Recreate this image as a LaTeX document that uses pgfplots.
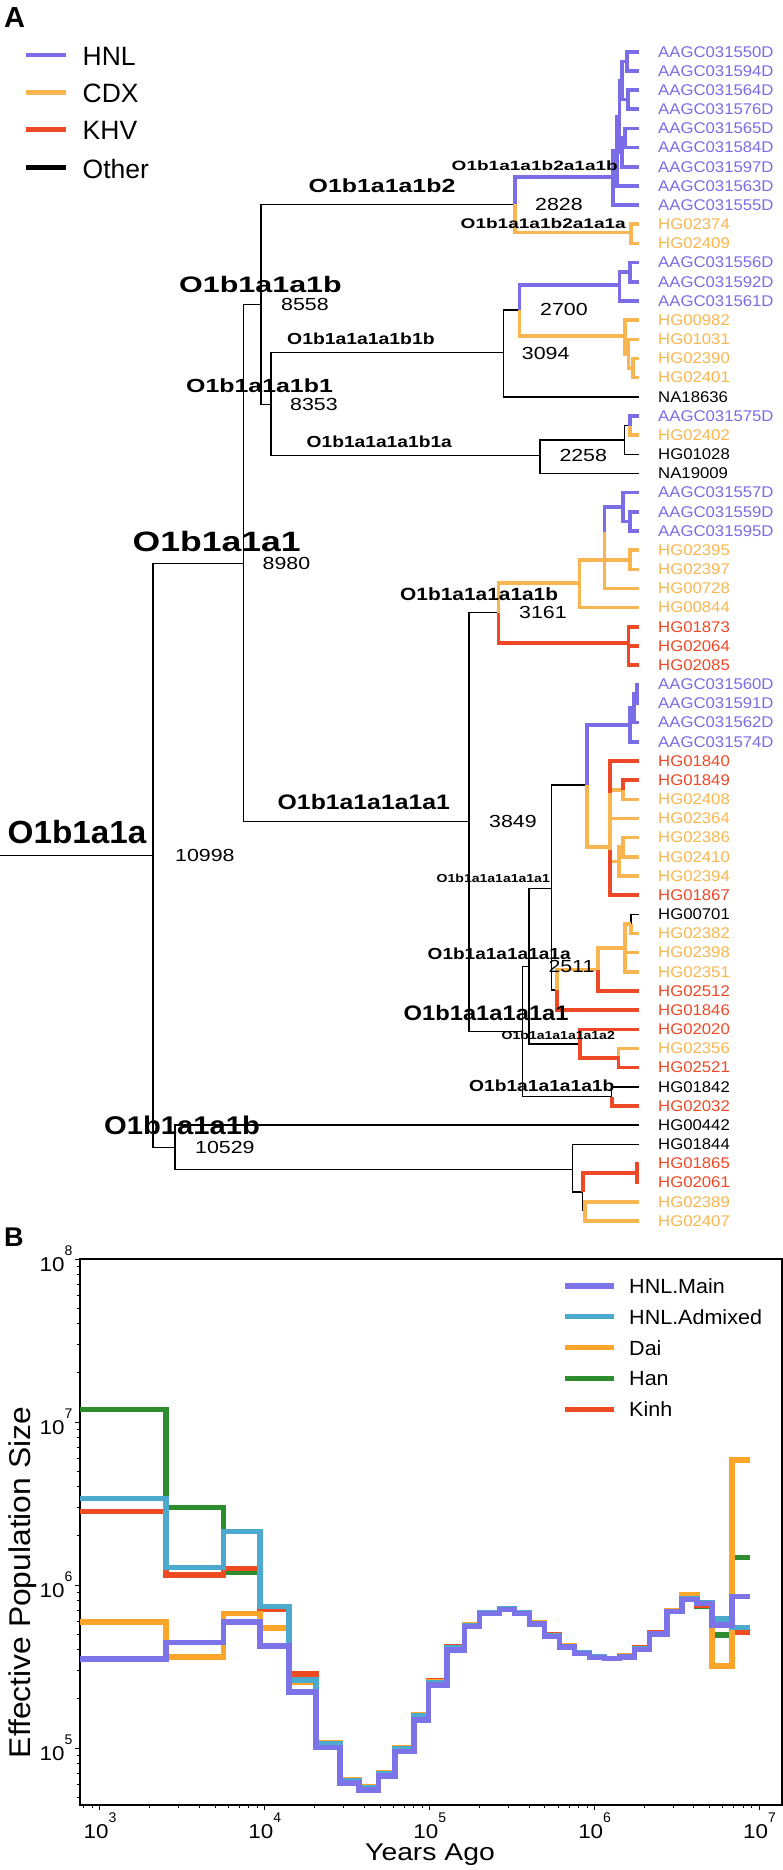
\documentclass[border=0pt]{standalone}
\usepackage{pgfplots}
\pgfplotsset{compat=1.18}
\usepackage{fontspec}
\setmainfont{Liberation Sans}
\newfontfamily\lsb{Liberation Sans Bold}
\definecolor{hnl}{RGB}{123,108,232}
\definecolor{cdx}{RGB}{249,182,80}
\definecolor{khv}{RGB}{238,72,38}
\definecolor{cMain}{RGB}{125,115,232}
\definecolor{cAdm}{RGB}{75,170,205}
\definecolor{cDai}{RGB}{252,165,40}
\definecolor{cHan}{RGB}{45,140,45}
\definecolor{cKinh}{RGB}{238,75,35}
\newcommand{\RL}[3]{\scalebox{#1}[1]{\fontsize{#2pt}{#2pt}\selectfont #3}}
\newcommand{\BL}[3]{\scalebox{#1}[1]{\lsb\fontsize{#2pt}{#2pt}\selectfont #3}}
\newcommand{\tip}[3]{\node[anchor=west,inner sep=0pt,text=#1] at (axis cs:658,#2) {\RL{1.08}{15.5}{#3}};}
\newcommand{\lab}[4]{\node[anchor=west,inner sep=0pt] at (axis cs:#1,#2) {#3{#4}};}
\newcommand{\tl}[1]{\scalebox{1.12}[1]{\fontsize{20pt}{20pt}\selectfont 10}\raisebox{16pt}{\fontsize{14pt}{14pt}\selectfont #1}}
\pgfplotsset{
 blk/.style={black, line width=1.5pt, forget plot},
 phn/.style={hnl, line width=3.6pt, forget plot},
 pcd/.style={cdx, line width=3.6pt, forget plot},
 pkh/.style={khv, line width=3.6pt, forget plot},
 bser/.style={line width=5.5pt, const plot, forget plot},
}
\begin{document}
\begin{tikzpicture}
\useasboundingbox (0pt,0pt) rectangle (782pt,-1870pt);
% ---------------- overlay (panel A and texts) ----------------
\begin{axis}[at={(0pt,0pt)}, anchor=north west, width=782pt, height=1870pt, scale only axis,
  xmin=0, xmax=782, ymin=0, ymax=1870, y dir=reverse, hide axis, clip=false, unbounded coords=jump]
% black branches
\addplot[blk] coordinates {
(0,855.7)(153,855.7) (0,inf)
(243.5,563.3)(153,563.3)(153,1147.5)(175,1147.5) (0,inf)
(261,304.3)(243.5,304.3)(243.5,821.7)(469,821.7) (0,inf)
(515,204.3)(261,204.3)(261,404.3)(271,404.3) (0,inf)
(503.5,352.7)(271,352.7)(271,455.7)(540,455.7) (0,inf)
(519.3,310)(503.5,310)(503.5,396.8)(639,396.8) (0,inf)
(624.3,440)(540,440)(540,473.4)(639,473.4) (0,inf)
(630,425.5)(624.3,425.5)(624.3,454.3)(639,454.3) (0,inf)
(498.3,612.7)(469,612.7)(469,1031.7)(522.5,1031.7) (0,inf)
(529,966.7)(522.5,966.7)(522.5,1096.5)(611.7,1096.5) (0,inf)
(639,1086.8)(611.7,1086.8)(611.7,1096.5) (0,inf)
(551.7,888.3)(529,888.3)(529,1044)(580,1044) (0,inf)
(586.7,785)(551.7,785)(551.7,990)(557,990) (0,inf)
(639,914.3)(631,914.3)(631,924) (0,inf)
(639,1125.1)(175,1125.1)(175,1169.3)(572.5,1169.3) (0,inf)
(639,1144.3)(572.5,1144.3)(572.5,1192)(582.7,1192)(582.7,1211.4)
};
% HNL
\addplot[phn] coordinates {
(515,204.3)(515,177)(613,177) (0,inf)
(617,151.2)(613,151.2)(613,205.1)(639,205.1) (0,inf)
(619.5,116.4)(617,116.4)(617,185.9)(639,185.9) (0,inf)
(622,80.5)(619.5,80.5)(619.5,152.3)(622,152.3) (0,inf)
(627,61.3)(622,61.3)(622,99.6)(628,99.6) (0,inf)
(639,51.7)(627,51.7)(627,70.9)(639,70.9) (0,inf)
(639,90)(628,90)(628,109.2)(639,109.2) (0,inf)
(625,138)(622,138)(622,166.7)(639,166.7) (0,inf)
(639,128.4)(625,128.4)(625,147.6)(639,147.6) (0,inf)
(519.3,310)(519.3,285)(619.3,285) (0,inf)
(630,272.2)(619.3,272.2)(619.3,300.9)(639,300.9) (0,inf)
(639,262.6)(630,262.6)(630,281.7)(639,281.7) (0,inf)
(630,425.5)(630,415.9)(639,415.9) (0,inf)
(586.7,785)(586.7,725)(630,725) (0,inf)
(634,708.2)(630,708.2)(630,741.8)(639,741.8) (0,inf)
(637,693.9)(634,693.9)(634,722.6)(639,722.6) (0,inf)
(639,684.3)(637,684.3)(637,703.4)(639,703.4) (0,inf)
(604.3,531.7)(604.3,507)(622.7,507) (0,inf)
(639,492.6)(622.7,492.6)(622.7,521.4)(630,521.4) (0,inf)
(639,511.8)(630,511.8)(630,531)(639,531)
};
% CDX
\addplot[pcd] coordinates {
(515,204.3)(515,232.3)(631,232.3) (0,inf)
(639,224.2)(631,224.2)(631,243.4)(639,243.4) (0,inf)
(519.3,310)(519.3,336)(625,336) (0,inf)
(639,320.1)(625,320.1)(625,353.7)(628.3,353.7) (0,inf)
(639,339.3)(628.3,339.3)(628.3,368)(632.7,368) (0,inf)
(639,358.4)(632.7,358.4)(632.7,377.6)(639,377.6) (0,inf)
(630,425.5)(630,435.1)(639,435.1) (0,inf)
(498.3,612.7)(498.3,582.7)(579.3,582.7) (0,inf)
(630,559.7)(579.3,559.7)(579.3,607.6)(639,607.6) (0,inf)
(639,550.1)(630,550.1)(630,569.3)(639,569.3) (0,inf)
(604.3,531.7)(604.3,588.4)(639,588.4) (0,inf)
(586.7,785)(586.7,846.7)(610,846.7) (0,inf)
(610,793)(610,850) (0,inf)
(610,789.7)(622.7,789.7)(622.7,799.3)(639,799.3) (0,inf)
(610,818.5)(639,818.5) (0,inf)
(610,861.5)(619,861.5) (0,inf)
(623,847.2)(619,847.2)(619,876)(639,876) (0,inf)
(639,837.6)(623,837.6)(623,856.8)(639,856.8) (0,inf)
(631,924)(631,933.5)(639,933.5) (0,inf)
(631,924)(625,924)(625,971.8)(639,971.8) (0,inf)
(625,952.6)(639,952.6) (0,inf)
(625,948)(598,948)(598,969.5)(557,969.5)(557,990) (0,inf)
(639,1048.5)(618.3,1048.5)(618.3,1057.9) (0,inf)
(582.7,1211.4)(585,1211.4) (0,inf)
(639,1201.8)(585,1201.8)(585,1221)(639,1221)
};
% KHV
\addplot[pkh] coordinates {
(498.3,612.7)(498.3,643)(628.3,643) (0,inf)
(639,626.8)(628.3,626.8)(628.3,665.1)(639,665.1) (0,inf)
(628.3,645.9)(639,645.9) (0,inf)
(639,760.9)(610,760.9)(610,793) (0,inf)
(639,780.1)(622.7,780.1)(622.7,789.7) (0,inf)
(610,850)(610,895.1)(639,895.1) (0,inf)
(598,969.5)(598,991)(639,991) (0,inf)
(557,990)(557,1010.1)(639,1010.1) (0,inf)
(639,1029.3)(580,1029.3)(580,1057.9)(618.3,1057.9)(618.3,1067.6)(639,1067.6) (0,inf)
(611.7,1096.5)(611.7,1106)(639,1106) (0,inf)
(582.7,1192)(582.7,1173)(636.7,1173) (0,inf)
(639,1163.5)(636.7,1163.5)(636.7,1182.6)(639,1182.6)
};
% legend A
\addplot[hnl, line width=4.5pt, forget plot] coordinates {(26,55)(66,55)};
\addplot[cdx, line width=4.5pt, forget plot] coordinates {(26,92.3)(66,92.3)};
\addplot[khv, line width=4.5pt, forget plot] coordinates {(26,129.3)(66,129.3)};
\addplot[black, line width=4.5pt, forget plot] coordinates {(26,167.7)(66,167.7)};
% legend B
\addplot[cMain, line width=5.5pt, forget plot] coordinates {(565,1286)(613.5,1286)};
\addplot[cAdm, line width=5.5pt, forget plot] coordinates {(565,1316.7)(613.5,1316.7)};
\addplot[cDai, line width=5.5pt, forget plot] coordinates {(565,1347.7)(613.5,1347.7)};
\addplot[cHan, line width=5.5pt, forget plot] coordinates {(565,1378.3)(613.5,1378.3)};
\addplot[cKinh, line width=5.5pt, forget plot] coordinates {(565,1409.3)(613.5,1409.3)};
% texts
\lab{4}{17.5}{\BL{1}{29}}{A}
\lab{4}{1237}{\BL{1}{27}}{B}
\lab{82.5}{56.2}{\RL{1}{26.5}}{HNL}
\lab{82.5}{93.7}{\RL{1}{26.5}}{CDX}
\lab{82.5}{130.8}{\RL{1}{26.5}}{KHV}
\lab{82.5}{168.8}{\RL{1}{26.5}}{Other}
\lab{629}{1286}{\RL{1.05}{20.5}}{HNL.Main}
\lab{629}{1316.7}{\RL{1.05}{20.5}}{HNL.Admixed}
\lab{629}{1347.7}{\RL{1.05}{20.5}}{Dai}
\lab{629}{1378.3}{\RL{1.05}{20.5}}{Han}
\lab{629}{1409.3}{\RL{1.05}{20.5}}{Kinh}
% node labels
\lab{7.5}{831.7}{\BL{1.04}{32}}{O1b1a1a}
\lab{175}{855.7}{\RL{1.22}{17.5}}{10998}
\lab{132.5}{541.7}{\BL{1.27}{28}}{O1b1a1a1}
\lab{262.5}{563}{\RL{1.22}{17.5}}{8980}
\lab{179}{284.7}{\BL{1.36}{22.4}}{O1b1a1a1b}
\lab{281}{304.2}{\RL{1.22}{17.5}}{8558}
\lab{308.5}{185.8}{\BL{1.31}{19}}{O1b1a1a1b2}
\lab{535}{204.7}{\RL{1.22}{17.5}}{2828}
\lab{451.5}{165.8}{\BL{1.41}{13.5}}{O1b1a1a1b2a1a1b}
\lab{460.5}{223}{\BL{1.36}{14}}{O1b1a1a1b2a1a1a}
\lab{186}{385.3}{\BL{1.31}{19}}{O1b1a1a1b1}
\lab{290}{404.2}{\RL{1.22}{17.5}}{8353}
\lab{287}{339.2}{\BL{1.21}{16}}{O1b1a1a1a1b1b}
\lab{306.5}{442.2}{\BL{1.2}{16}}{O1b1a1a1a1b1a}
\lab{540}{309.7}{\RL{1.22}{17.5}}{2700}
\lab{521.7}{353.3}{\RL{1.22}{17.5}}{3094}
\lab{559.3}{455.8}{\RL{1.22}{17.5}}{2258}
\lab{400}{593.7}{\BL{1.18}{17.7}}{O1b1a1a1a1a1b}
\lab{519}{612.2}{\RL{1.22}{17.5}}{3161}
\lab{277.5}{801.7}{\BL{1.18}{21}}{O1b1a1a1a1a1}
\lab{489}{821.7}{\RL{1.22}{17.5}}{3849}
\lab{436.5}{878.5}{\BL{1.21}{11.6}}{O1b1a1a1a1a1a1}
\lab{427.5}{954.2}{\BL{1.19}{16}}{O1b1a1a1a1a1a}
\lab{548.3}{966.7}{\RL{1.22}{17.5}}{2511}
\lab{403.5}{1012.7}{\BL{1.13}{21}}{O1b1a1a1a1a1}
\lab{501.5}{1035.8}{\BL{1.21}{11.6}}{O1b1a1a1a1a1a2}
\lab{469}{1085.3}{\BL{1.2}{16}}{O1b1a1a1a1a1b}
\lab{104}{1125.8}{\BL{1.14}{25.6}}{O1b1a1a1b}
\lab{195}{1147.8}{\RL{1.22}{17.5}}{10529}
% axis titles of panel B
\node[anchor=base west,inner sep=0pt] at (axis cs:365,1860) {\RL{1.17}{24.2}{Years Ago}};
\node[anchor=base,rotate=90,inner sep=0pt] at (axis cs:30.5,1582.5) {\RL{1.06}{30}{Effective Population Size}};
% tips
\tip{hnl}{51.7}{AAGC031550D}
\tip{hnl}{70.9}{AAGC031594D}
\tip{hnl}{90.0}{AAGC031564D}
\tip{hnl}{109.2}{AAGC031576D}
\tip{hnl}{128.4}{AAGC031565D}
\tip{hnl}{147.6}{AAGC031584D}
\tip{hnl}{166.7}{AAGC031597D}
\tip{hnl}{185.9}{AAGC031563D}
\tip{hnl}{205.1}{AAGC031555D}
\tip{cdx}{224.2}{HG02374}
\tip{cdx}{243.4}{HG02409}
\tip{hnl}{262.6}{AAGC031556D}
\tip{hnl}{281.7}{AAGC031592D}
\tip{hnl}{300.9}{AAGC031561D}
\tip{cdx}{320.1}{HG00982}
\tip{cdx}{339.3}{HG01031}
\tip{cdx}{358.4}{HG02390}
\tip{cdx}{377.6}{HG02401}
\tip{black}{396.8}{NA18636}
\tip{hnl}{415.9}{AAGC031575D}
\tip{cdx}{435.1}{HG02402}
\tip{black}{454.3}{HG01028}
\tip{black}{473.4}{NA19009}
\tip{hnl}{492.6}{AAGC031557D}
\tip{hnl}{511.8}{AAGC031559D}
\tip{hnl}{531.0}{AAGC031595D}
\tip{cdx}{550.1}{HG02395}
\tip{cdx}{569.3}{HG02397}
\tip{cdx}{588.4}{HG00728}
\tip{cdx}{607.6}{HG00844}
\tip{khv}{626.8}{HG01873}
\tip{khv}{645.9}{HG02064}
\tip{khv}{665.1}{HG02085}
\tip{hnl}{684.3}{AAGC031560D}
\tip{hnl}{703.4}{AAGC031591D}
\tip{hnl}{722.6}{AAGC031562D}
\tip{hnl}{741.8}{AAGC031574D}
\tip{khv}{760.9}{HG01840}
\tip{khv}{780.1}{HG01849}
\tip{cdx}{799.3}{HG02408}
\tip{cdx}{818.5}{HG02364}
\tip{cdx}{837.6}{HG02386}
\tip{cdx}{856.8}{HG02410}
\tip{cdx}{876.0}{HG02394}
\tip{khv}{895.1}{HG01867}
\tip{black}{914.3}{HG00701}
\tip{cdx}{933.5}{HG02382}
\tip{cdx}{952.6}{HG02398}
\tip{cdx}{971.8}{HG02351}
\tip{khv}{991.0}{HG02512}
\tip{khv}{1010.1}{HG01846}
\tip{khv}{1029.3}{HG02020}
\tip{cdx}{1048.5}{HG02356}
\tip{khv}{1067.6}{HG02521}
\tip{black}{1086.8}{HG01842}
\tip{khv}{1106.0}{HG02032}
\tip{black}{1125.1}{HG00442}
\tip{black}{1144.3}{HG01844}
\tip{khv}{1163.5}{HG01865}
\tip{khv}{1182.6}{HG02061}
\tip{cdx}{1201.8}{HG02389}
\tip{cdx}{1221.0}{HG02407}
\end{axis}
% ---------------- panel B ----------------
\begin{axis}[at={(80pt,-1805pt)}, anchor=south west, width=702pt, height=546pt, scale only axis,
  xmode=log, ymode=log, xmin=757, xmax=1.369e7, ymin=4.47e4, ymax=1e8,
  axis line style={line width=2.5pt},
  tick style={black, line width=1pt}, tick align=outside,
  major tick length=5pt, minor tick length=3pt,
  xtick pos=bottom, ytick pos=left,
  xtick={1e3,1e4,1e5,1e6,1e7},
  xticklabels={\tl{3},\tl{4},\tl{5},\tl{6},\tl{7}},
  minor xtick={8e2,9e2,2e3,3e3,4e3,5e3,6e3,7e3,8e3,9e3,2e4,3e4,4e4,5e4,6e4,7e4,8e4,9e4,2e5,3e5,4e5,5e5,6e5,7e5,8e5,9e5,2e6,3e6,4e6,5e6,6e6,7e6,8e6,9e6},
  ytick={1e5,1e6,1e7,1e8},
  yticklabels={\tl{5},\tl{6},\tl{7},\tl{8}},
  minor ytick={5e4,6e4,7e4,8e4,9e4,2e5,3e5,4e5,5e5,6e5,7e5,8e5,9e5,2e6,3e6,4e6,5e6,6e6,7e6,8e6,9e6,2e7,3e7,4e7,5e7,6e7,7e7,8e7,9e7},
  xticklabel style={inner sep=0pt, yshift=-3pt},
  yticklabel style={inner sep=0pt, xshift=-2.5pt},
]
% Han
\addplot[bser, cHan] coordinates {
(757,1.196e7)(2512,2.997e6)(5600,1.196e6)(9327,7.09e5)(14040,2.84e5)
(20380,1.073e5)(28480,6.36e4)(37130,5.77e4)(48740,7.02e4)(61370,1.0e5)
(80000,1.6e5)(98600,2.56e5)(1.277e5,4.15e5)(1.630e5,5.68e5)(2.009e5,6.8e5)
(2.656e5,7.2e5)(3.275e5,6.8e5)(4.037e5,5.85e5)(4.977e5,4.9e5)(6.137e5,4.22e5)
(7.566e5,3.85e5)(9.326e5,3.63e5)(1.150e6,3.55e5)(1.418e6,3.66e5)(1.748e6,4.08e5)
(2.154e6,5.05e5)(2.751e6,6.95e5)(3.391e6,8.3e5)(4.181e6,7.36e5)(5.154e6,4.93e5)
(6.813e6,1.479e6)(8.699e6,1.479e6)};
% Kinh
\addplot[bser, cKinh] coordinates {
(757,2.817e6)(2512,1.152e6)(5600,1.266e6)(9327,7.09e5)(14040,2.84e5)
(20380,1.073e5)(28480,6.36e4)(37130,5.77e4)(48740,7.02e4)(61370,1.0e5)
(80000,1.6e5)(98600,2.57e5)(1.277e5,4.18e5)(1.630e5,5.7e5)(2.009e5,6.8e5)
(2.656e5,7.2e5)(3.275e5,6.8e5)(4.037e5,5.9e5)(4.977e5,4.92e5)(6.137e5,4.22e5)
(7.566e5,3.85e5)(9.326e5,3.63e5)(1.150e6,3.55e5)(1.418e6,3.66e5)(1.748e6,4.1e5)
(2.154e6,5.08e5)(2.751e6,7.0e5)(3.391e6,8.4e5)(4.181e6,7.54e5)(5.154e6,6.01e5)
(6.813e6,5.10e5)(8.699e6,5.10e5)};
% Dai
\addplot[bser, cDai] coordinates {
(757,5.95e5)(2512,3.63e5)(5600,6.71e5)(9327,5.43e5)(14040,2.52e5)
(20380,1.073e5)(28480,6.36e4)(37130,5.77e4)(48740,7.02e4)(61370,1.0e5)
(80000,1.59e5)(98600,2.55e5)(1.277e5,4.15e5)(1.630e5,5.68e5)(2.009e5,6.8e5)
(2.656e5,7.2e5)(3.275e5,6.8e5)(4.037e5,5.85e5)(4.977e5,4.9e5)(6.137e5,4.22e5)
(7.566e5,3.85e5)(9.326e5,3.63e5)(1.150e6,3.55e5)(1.418e6,3.66e5)(1.748e6,4.08e5)
(2.154e6,5.05e5)(2.751e6,6.95e5)(3.391e6,8.68e5)(4.181e6,7.75e5)(5.154e6,3.18e5)
(6.813e6,5.846e6)(8.699e6,5.846e6)};
% HNL.Admixed
\addplot[bser, cAdm] coordinates {
(757,3.403e6)(2512,1.277e6)(5600,2.123e6)(9327,7.36e5)(14040,2.61e5)
(20380,1.065e5)(28480,6.3e4)(37130,5.7e4)(48740,6.95e4)(61370,9.9e4)
(80000,1.57e5)(98600,2.52e5)(1.277e5,4.1e5)(1.630e5,5.62e5)(2.009e5,6.78e5)
(2.656e5,7.15e5)(3.275e5,6.75e5)(4.037e5,5.8e5)(4.977e5,4.86e5)(6.137e5,4.2e5)
(7.566e5,3.83e5)(9.326e5,3.62e5)(1.150e6,3.54e5)(1.418e6,3.65e5)(1.748e6,4.06e5)
(2.154e6,5.02e5)(2.751e6,6.9e5)(3.391e6,8.25e5)(4.181e6,7.75e5)(5.154e6,6.19e5)
(6.813e6,5.47e5)(8.699e6,5.47e5)};
% HNL.Main
\addplot[bser, cMain] coordinates {
(757,3.52e5)(2512,4.44e5)(5600,5.95e5)(9327,4.22e5)(14040,2.21e5)
(20380,1.010e5)(28480,6.12e4)(37130,5.52e4)(48740,6.73e4)(61370,9.49e4)
(80000,1.485e5)(98600,2.44e5)(1.277e5,3.99e5)(1.630e5,5.55e5)(2.009e5,6.71e5)
(2.656e5,7.09e5)(3.275e5,6.71e5)(4.037e5,5.76e5)(4.977e5,4.82e5)(6.137e5,4.18e5)
(7.566e5,3.81e5)(9.326e5,3.60e5)(1.150e6,3.53e5)(1.418e6,3.63e5)(1.748e6,4.03e5)
(2.154e6,5.00e5)(2.751e6,6.86e5)(3.391e6,8.17e5)(4.181e6,7.72e5)(5.154e6,5.68e5)
(6.813e6,8.48e5)(8.699e6,8.48e5)};
\end{axis}
\end{tikzpicture}
\end{document}
